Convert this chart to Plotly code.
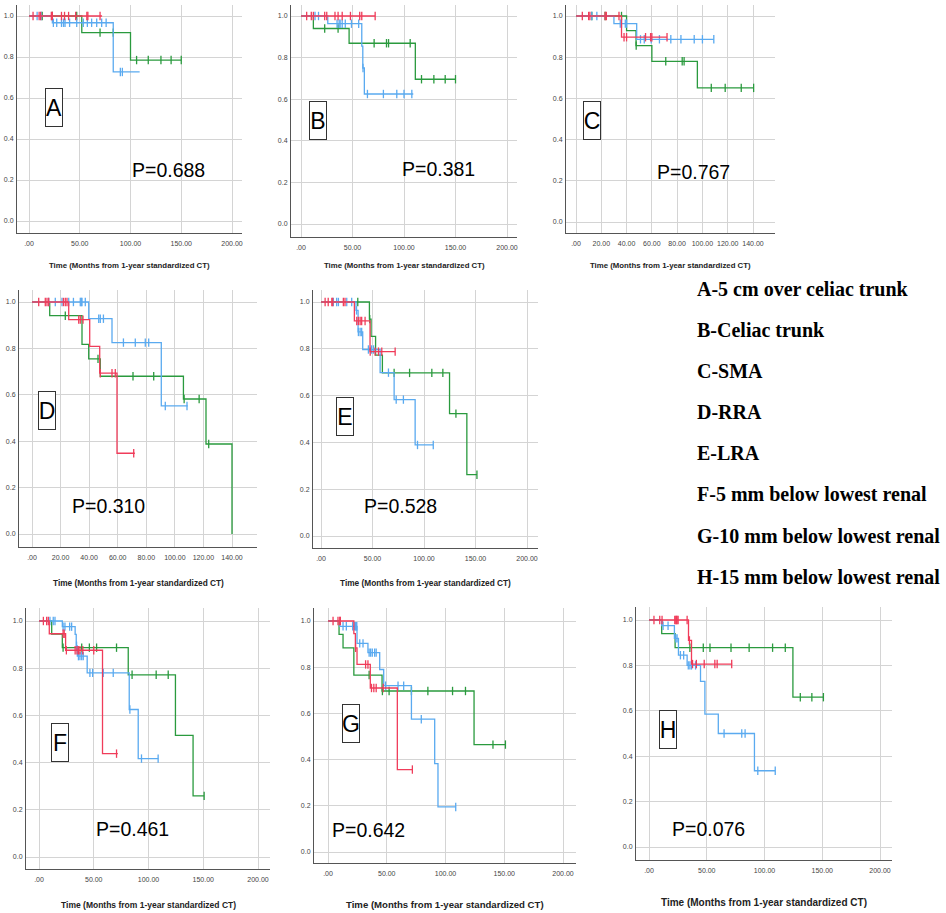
import plotly.graph_objects as go

# ---------------- DATA ----------------
# Step curves: times where each survival level starts (last entry = end of follow-up)
# Panel A
A_green_t = [0, 52, 100, 150];            A_green_s = [1.0, 0.919, 0.785, 0.785]
A_green_c = [13, 23, 47, 70, 83, 106, 117.5, 130, 140, 150]
A_blue_t = [0, 23, 83, 109];              A_blue_s = [1.0, 0.967, 0.727, 0.727]
A_blue_c = [8, 12, 24, 27.3, 32, 34, 35.5, 40, 47, 53.5, 57.5, 61.7, 66.7, 71.6, 76, 90, 92]
A_red_t = [0, 72];                        A_red_s = [1.0, 1.0]
A_red_c = [4, 10, 11.5, 22, 23, 32, 35, 39, 46, 57, 58, 70]
# Panel B
B_green_t = [0, 12, 46.7, 111, 150];      B_green_s = [1.0, 0.94, 0.869, 0.696, 0.696]
B_green_c = [23, 36, 71, 83, 85, 106, 117, 129, 140, 150]
B_blue_t = [0, 26, 59, 60, 61.5, 109];    B_blue_s = [1.0, 0.963, 0.855, 0.75, 0.625, 0.625]
B_blue_c = [13.6, 17, 35, 37, 38, 40, 43, 49, 56, 60.2, 64.5, 80, 93, 100, 107.6]
B_red_t = [0, 72];                        B_red_s = [1.0, 1.0]
B_red_c = [5.5, 10, 12, 23, 25, 33, 36, 40, 48, 57, 59, 72]
# Panel C
C_green_t = [0, 40, 47.5, 60, 96, 140.5]; C_green_s = [1.0, 0.929, 0.856, 0.78, 0.651, 0.651]
C_green_c = [12.5, 23, 36, 47.6, 71, 84, 85.5, 107, 118, 130.7, 140.5]
C_blue_t = [0, 30, 48, 109];              C_blue_s = [1.0, 0.963, 0.887, 0.887]
C_blue_c = [12.5, 16.5, 35, 36, 39, 40, 51, 54, 59.5, 66, 75, 83, 93.5, 100, 109]
C_red_t = [0, 36, 72];                    C_red_s = [1.0, 0.897, 0.897]
C_red_c = [5, 10, 11, 23, 24, 34, 38, 40, 55, 59, 60, 72]
# Panel D
D_green_t = [0, 12.4, 35, 39.7, 47.8, 106, 121.8, 140]
D_green_s = [1.0, 0.941, 0.817, 0.755, 0.68, 0.582, 0.388, 0.0]
D_green_c = [23.3, 46.2, 70.7, 85.2, 106.5, 117, 123.7]
D_blue_t = [0, 39.7, 56, 90.5, 109];      D_blue_s = [1.0, 0.928, 0.825, 0.552, 0.552]
D_blue_c = [11.7, 16.3, 21, 25.7, 29, 33.8, 34.5, 35, 37.3, 46.7, 47.8, 50, 64, 72.3, 79.3, 81.7, 93.3, 108.5]
D_red_t = [0, 25.7, 40.4, 47.4, 59.5, 72]; D_red_s = [1.0, 0.924, 0.809, 0.693, 0.348, 0.348]
D_red_c = [4.7, 9.3, 10.5, 11.7, 22, 23.3, 24.5, 32.7, 33.8, 35.7, 47.8, 56, 58.3, 71.2]
# Panel E
E_green_t = [0, 47, 48.6, 53, 59.6, 124.8, 141.6, 151.4]
E_green_s = [1.0, 0.927, 0.853, 0.773, 0.697, 0.523, 0.262, 0.262]
E_green_c = [35.7, 47.3, 71, 86, 107.6, 118.3, 131, 151.4]
E_blue_t = [0, 34, 36, 40.5, 57.4, 71, 91.4, 109]
E_blue_s = [1.0, 0.964, 0.872, 0.797, 0.698, 0.583, 0.389, 0.389]
E_blue_c = [12, 15.2, 16.9, 25, 29.8, 34.5, 36.3, 38, 39.5, 46, 49, 51, 65.5, 73, 80, 93.7, 109]
E_red_t = [0, 32.4, 47.6, 72];            E_red_s = [1.0, 0.919, 0.788, 0.788]
E_red_c = [4, 7, 10.5, 11.4, 21.7, 23.3, 34.7, 36.3, 38, 39.5, 42.8, 47.8, 52.5, 55.8, 59, 72]
# Panel F
F_green_t = [0, 11.6, 21.3, 81.5, 124.6, 140.7, 150.8]
F_green_s = [1.0, 0.945, 0.887, 0.772, 0.515, 0.259, 0.259]
F_green_c = [22, 39, 46, 52.6, 70.8, 85, 107, 118, 150.8]
F_blue_t = [0, 21.3, 33, 34, 35, 44, 82.4, 90.6, 109]
F_blue_s = [1.0, 0.976, 0.943, 0.895, 0.851, 0.78, 0.625, 0.417, 0.417]
F_blue_c = [10, 13, 14.6, 22, 23.7, 28, 29.8, 34.3, 36, 37.4, 39, 40.4, 46.5, 49, 58.7, 67.8, 83, 93.6, 108.8]
F_red_t = [0, 9.4, 24.3, 58, 72];         F_red_s = [1.0, 0.946, 0.876, 0.438, 0.438]
F_red_c = [4, 7, 8.5, 22, 23, 25, 33, 34.7, 36, 37.4, 40, 50, 70.8]
# Panel G
G_green_t = [0, 9.4, 12.8, 22, 46, 124.3, 151]
G_green_s = [1.0, 0.942, 0.884, 0.766, 0.697, 0.465, 0.465]
G_green_c = [35, 46.3, 52, 71, 85, 106, 117, 140.4, 151]
G_blue_t = [0, 10, 24.7, 34, 44, 47.4, 71, 90.8, 93.6, 109]
G_blue_s = [1.0, 0.977, 0.903, 0.863, 0.79, 0.72, 0.575, 0.383, 0.195, 0.195]
G_blue_c = [12.8, 15.6, 21, 22.7, 23.5, 24, 24.5, 27, 29.8, 35, 36.3, 37.7, 39.7, 41, 49, 59.6, 64.4, 79.4, 108.7]
G_red_t = [0, 22, 23.3, 24.7, 36, 59, 72]
G_red_s = [1.0, 0.945, 0.884, 0.812, 0.71, 0.357, 0.357]
G_red_c = [4.3, 8.5, 10, 10.5, 23.5, 32, 34, 37, 39, 41, 47, 71.8]
# Panel H
H_green_t = [0, 11, 22.6, 124.6, 151];    H_green_s = [1.0, 0.94, 0.878, 0.66, 0.66]
H_green_c = [35.4, 47, 52.8, 71, 86.7, 107, 118, 131, 141, 151]
H_blue_t = [0, 11, 22, 25.5, 33, 44.6, 48.4, 60, 91.3, 109.3]
H_blue_s = [1.0, 0.975, 0.919, 0.845, 0.80, 0.73, 0.585, 0.5, 0.336, 0.336]
H_blue_c = [12.2, 16.5, 23.2, 24.3, 27.2, 30, 34, 35.4, 36.8, 40.3, 65, 80.3, 83.2, 94.2, 109.3]
H_red_t = [0, 34.2, 36.8, 72];            H_red_s = [1.0, 0.91, 0.806, 0.806]
H_red_c = [4.3, 9.3, 11.3, 22.3, 23.2, 23.8, 24.3, 25.2, 33, 35, 37.7, 41, 47.8, 57, 59, 71.6]

panel_letters = ["A", "B", "C", "D", "E", "F", "G", "H"]
p_values = ["P=0.688", "P=0.381", "P=0.767", "P=0.310", "P=0.528", "P=0.461", "P=0.642", "P=0.076"]
x_ticks_200 = [0, 50, 100, 150, 200]
x_ticklabels_200 = [".00", "50.00", "100.00", "150.00", "200.00"]
x_ticks_140 = [0, 20, 40, 60, 80, 100, 120, 140]
x_ticklabels_140 = [".00", "20.00", "40.00", "60.00", "80.00", "100.00", "120.00", "140.00"]
y_ticks = [0.0, 0.2, 0.4, 0.6, 0.8, 1.0]
y_ticklabels = ["0.0", "0.2", "0.4", "0.6", "0.8", "1.0"]
legend_lines = ["A-5 cm over celiac trunk", "B-Celiac trunk", "C-SMA", "D-RRA", "E-LRA",
                "F-5 mm below lowest renal", "G-10 mm below lowest renal", "H-15 mm below lowest renal"]
x_title = "Time (Months from 1-year standardized CT)"

curves = {
    "A": [(A_green_t, A_green_s, A_green_c), (A_blue_t, A_blue_s, A_blue_c), (A_red_t, A_red_s, A_red_c)],
    "B": [(B_green_t, B_green_s, B_green_c), (B_blue_t, B_blue_s, B_blue_c), (B_red_t, B_red_s, B_red_c)],
    "C": [(C_green_t, C_green_s, C_green_c), (C_blue_t, C_blue_s, C_blue_c), (C_red_t, C_red_s, C_red_c)],
    "D": [(D_green_t, D_green_s, D_green_c), (D_blue_t, D_blue_s, D_blue_c), (D_red_t, D_red_s, D_red_c)],
    "E": [(E_green_t, E_green_s, E_green_c), (E_blue_t, E_blue_s, E_blue_c), (E_red_t, E_red_s, E_red_c)],
    "F": [(F_green_t, F_green_s, F_green_c), (F_blue_t, F_blue_s, F_blue_c), (F_red_t, F_red_s, F_red_c)],
    "G": [(G_green_t, G_green_s, G_green_c), (G_blue_t, G_blue_s, G_blue_c), (G_red_t, G_red_s, G_red_c)],
    "H": [(H_green_t, H_green_s, H_green_c), (H_blue_t, H_blue_s, H_blue_c), (H_red_t, H_red_s, H_red_c)],
}

# ---------------- LAYOUT GEOMETRY (screen pixels) ----------------
W, H = 946, 913
COLORS = ["#2a9a3e", "#5aaaf0", "#f03c5a"]
FONT = "Liberation Sans, Arial, sans-serif"
# letter: (left, right, top, bottom, x0px, xmaxpx, xmax, y1px, y0px)
geom = {
    "A": (17, 242, 5, 233, 29, 232, 200, 16, 221),
    "B": (291, 517, 5, 237, 301, 507, 200, 16, 224),
    "C": (566, 775, 5, 233, 576, 753, 140, 16, 222),
    "D": (19, 257, 290, 547, 32, 232, 140, 302, 534),
    "E": (313, 538, 290, 548, 321, 527, 200, 302, 536),
    "F": (26, 270, 608, 869, 39, 258, 200, 621, 857),
    "G": (314, 576, 608, 863, 328, 563, 200, 621, 852),
    "H": (636, 892, 607, 860, 649, 880, 200, 620, 847),
}
letter_pos = {"A": (53.5, 107.5), "B": (318, 121), "C": (591.5, 120), "D": (46.5, 410),
              "E": (344.5, 416), "F": (60, 742), "G": (351, 723.5), "H": (667.5, 729)}
p_pos = {"A": (168, 170), "B": (438, 169), "C": (693.5, 172), "D": (108, 506),
         "E": (400, 506), "F": (132, 829), "G": (368, 830), "H": (708, 829)}
title_y = {"A": 265, "B": 265, "C": 265, "D": 583, "E": 583, "F": 905, "G": 904, "H": 902}
title_size = {"A": 7.8, "B": 7.8, "C": 7.8, "D": 8.3, "E": 8.3, "F": 8.5, "G": 9.6, "H": 10}


def fx(px):
    return min(1.0, max(0.0, px / W))


def fy(py):
    return min(1.0, max(0.0, 1 - py / H))


def step_value(ts, ss, t):
    v = ss[0]
    for ti, si in zip(ts, ss):
        if ti <= t:
            v = si
    return v


fig = go.Figure()
layout = dict(width=W, height=H, margin=dict(l=0, r=0, t=0, b=0, autoexpand=False), autosize=False,
              paper_bgcolor="white", plot_bgcolor="white", showlegend=False)
annotations = []

for i, L in enumerate(panel_letters):
    left, right, top, bottom, x0p, xmp, xmax, y1p, y0p = geom[L]
    sx = (xmp - x0p) / xmax
    sy = (y0p - y1p) / 1.0
    xr = [(left - x0p) / sx, (right - x0p) / sx]
    yr = [(y0p - bottom) / sy, (y0p - top) / sy]
    n = "" if i == 0 else str(i + 1)
    xa, ya = "x" + n, "y" + n
    ticks = x_ticks_200 if xmax == 200 else x_ticks_140
    tlabels = x_ticklabels_200 if xmax == 200 else x_ticklabels_140
    layout["xaxis" + n] = dict(domain=[fx(left), fx(right)], range=xr, anchor=ya, automargin=False,
                               tickvals=ticks, ticktext=tlabels, showgrid=True,
                               gridcolor="#d4d4d4", gridwidth=1, zeroline=False,
                               showline=True, linecolor="#555555", linewidth=1,
                               ticks="outside", ticklen=4, tickcolor="rgba(0,0,0,0)",
                               tickfont=dict(family=FONT, size=7, color="#444444"), fixedrange=True)
    layout["yaxis" + n] = dict(domain=[fy(bottom), fy(top)], range=yr, anchor=xa, automargin=False,
                               tickvals=y_ticks, ticktext=y_ticklabels, showgrid=True,
                               gridcolor="#d4d4d4", gridwidth=1, zeroline=False,
                               showline=True, linecolor="#555555", linewidth=1,
                               ticks="outside", ticklen=1, tickcolor="rgba(0,0,0,0)",
                               tickfont=dict(family=FONT, size=7, color="#444444"), fixedrange=True)
    for (ts, ss, cs), col in zip(curves[L], COLORS):
        fig.add_trace(go.Scatter(x=ts, y=ss, mode="lines", line=dict(color=col, width=1.3, shape="hv"),
                                 xaxis=xa, yaxis=ya, hoverinfo="skip"))
        fig.add_trace(go.Scatter(x=cs, y=[step_value(ts, ss, c) for c in cs], mode="markers",
                                 marker=dict(symbol="line-ns", size=6, line=dict(color=col, width=1.3)),
                                 xaxis=xa, yaxis=ya, hoverinfo="skip"))
    # panel letter box
    lx, ly = letter_pos[L]
    annotations.append(dict(x=fx(lx), y=fy(ly), xref="paper", yref="paper", text=L, showarrow=False,
                            font=dict(family=FONT, size=23, color="black"),
                            width=16, height=37, align="center", valign="middle",
                            bordercolor="#333333", borderwidth=1, borderpad=0, bgcolor="white",
                            xanchor="center", yanchor="middle"))
    px_, py_ = p_pos[L]
    annotations.append(dict(x=fx(px_), y=fy(py_), xref="paper", yref="paper", text=p_values[i],
                            showarrow=False, xanchor="center", yanchor="middle",
                            font=dict(family=FONT, size=19.5, color="black")))
    annotations.append(dict(x=fx((left + right) / 2), y=fy(title_y[L]), xref="paper", yref="paper",
                            text="<b>" + x_title + "</b>", showarrow=False, xanchor="center", yanchor="middle",
                            font=dict(family=FONT, size=title_size[L], color="#222222")))

for j, line in enumerate(legend_lines):
    annotations.append(dict(x=fx(695), y=fy(289 + 41.1 * j), xref="paper", yref="paper",
                            text="<b>" + line + "</b>", showarrow=False, xanchor="left", yanchor="middle",
                            font=dict(family="Liberation Serif, Times New Roman, serif", size=20, color="black")))

layout["annotations"] = annotations
fig.update_layout(**layout)
fig.write_html("out.html", config={"displayModeBar": False},
               post_script="document.body.style.margin='0';document.body.style.overflow='hidden';")
